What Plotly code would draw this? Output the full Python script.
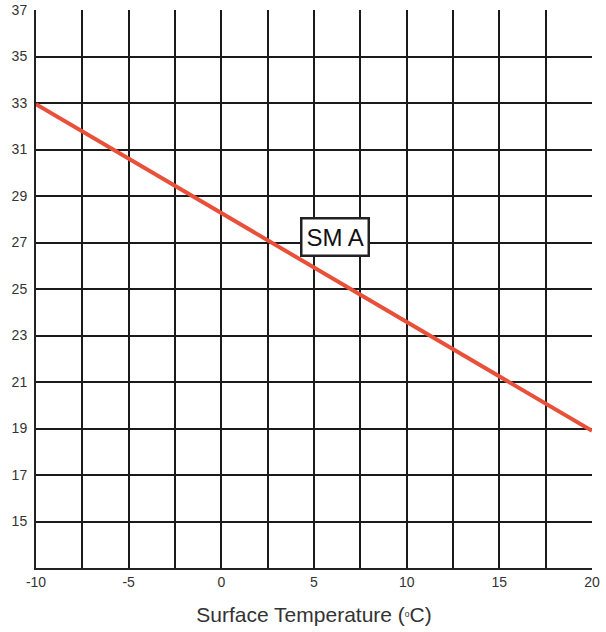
import plotly.graph_objects as go

# Data
line_x = [-10, 20]
line_y = [32.95, 18.9]
series_label = "SM A"
label_x = 6.15
label_y = 27.25

x_tickvals = [-10, -7.5, -5, -2.5, 0, 2.5, 5, 7.5, 10, 12.5, 15, 17.5, 20]
x_ticktext = ["-10", "", "-5", "", "0", "", "5", "", "10", "", "15", "", "20"]
y_tickvals = [13, 15, 17, 19, 21, 23, 25, 27, 29, 31, 33, 35, 37]
y_ticktext = ["", "15", "17", "19", "21", "23", "25", "27", "29", "31", "33", "35", "37"]
x_title = "Surface Temperature (<span style='font-size:12px'><sup>o</sup></span>C)"

FONT = "Liberation Sans, Arial, Helvetica, sans-serif"

fig = go.Figure()
fig.add_trace(go.Scatter(
    x=line_x, y=line_y, mode="lines",
    line=dict(color="#E8503A", width=4),
    showlegend=False, hoverinfo="skip", cliponaxis=False,
))

fig.add_annotation(
    x=label_x, y=label_y, text=series_label, showarrow=False,
    font=dict(family=FONT, size=24, color="#111111"),
    bgcolor="white", bordercolor="#222222", borderwidth=2.5, borderpad=4,
)

fig.update_layout(
    width=606, height=632,
    margin=dict(l=36, r=14, t=10, b=64, autoexpand=False),
    paper_bgcolor="white", plot_bgcolor="white",
    font=dict(family=FONT, color="#333333"),
)

fig.update_xaxes(
    range=[-10, 20], tickvals=x_tickvals, ticktext=x_ticktext,
    showgrid=True, gridcolor="#1a1a1a", gridwidth=1.5,
    showline=True, linecolor="#222222", linewidth=2, mirror=False,
    zeroline=False, ticks="", tickfont=dict(size=14, color="#333333"),
    title=dict(text=x_title, font=dict(size=21, color="#333333"), standoff=19),
    automargin=False, fixedrange=True,
)
fig.update_yaxes(
    range=[13, 37], tickvals=y_tickvals, ticktext=y_ticktext,
    showgrid=True, gridcolor="#1a1a1a", gridwidth=1.5,
    showline=True, linecolor="#222222", linewidth=2,
    zeroline=False, ticks="", tickfont=dict(size=14, color="#333333"),
    ticklabelstandoff=4,
    automargin=False, fixedrange=True,
)

fig.write_html(
    "out.html",
    config={"displayModeBar": False},
    post_script="document.body.style.margin='0';document.body.style.overflow='hidden';",
)
